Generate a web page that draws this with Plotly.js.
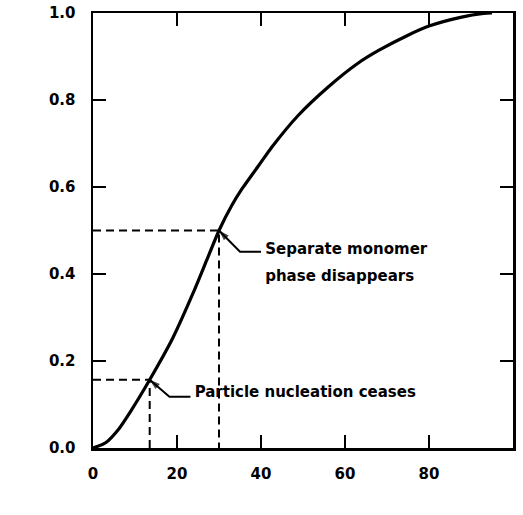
<!DOCTYPE html>
<html>
<head>
<meta charset="utf-8">
<script src="https://cdn.plot.ly/plotly-3.0.1.min.js"></script>
<style>
  html, body { margin: 0; padding: 0; background: #fff; }
  #chart { width: 523px; height: 515px; }
</style>
</head>
<body>
<div id="chart"></div>
<script>
// Conversion x versus time t (min)
const timeMin = [0, 3, 6, 9, 13.5, 19, 24, 27, 30, 33, 35.5, 39.5, 42.6, 48.9, 56, 63, 68, 75, 80, 87.5, 93, 95];
const conversion = [0, 0.012, 0.042, 0.085, 0.157, 0.253, 0.36, 0.43, 0.5, 0.557, 0.596, 0.65, 0.692, 0.765, 0.83, 0.884, 0.914, 0.949, 0.97, 0.99, 0.999, 1.0];

// Marked events on the curve
const eventLabels = ['Particle nucleation ceases', 'Separate monomer', 'phase disappears'];
const eventT = [13.5, 30];
const eventX = [0.157, 0.5];

const xTicks = [0, 20, 40, 60, 80, 100];
const yTicks = [0, 0.2, 0.4, 0.6, 0.8, 1.0];

const FONT = 'DejaVu Sans, sans-serif';
const W = 523, H = 515;
const MARGIN = { l: 93, r: 10, t: 13, b: 67 };
const X_RANGE = [0, 100], Y_RANGE = [0, 1];
const plotW = W - MARGIN.l - MARGIN.r, plotH = H - MARGIN.t - MARGIN.b;
// pixel offsets expressed in axis units
const pxX = p => p / plotW * (X_RANGE[1] - X_RANGE[0]);
const pxY = p => p / plotH * (Y_RANGE[1] - Y_RANGE[0]);

const boldFont = { family: FONT, size: 15, color: '#000', weight: 'bold' };

// dashed guide lines from each event point to both axes
const guides = eventT.map((t, i) => ({
  x: [0, t, t],
  y: [eventX[i], eventX[i], 0],
  mode: 'lines',
  line: { color: '#000', width: 2, dash: '8px,5px' }
}));

const curve = {
  x: timeMin,
  y: conversion,
  mode: 'lines',
  line: { color: '#000', width: 3.2, shape: 'spline', smoothing: 0.6 }
};

// callout leaders: from the label, along a short level run, then bent to the point
const bendT = [eventT[0] + 4.7, eventT[1] + 5];
const bendX = [eventX[0] - 0.039, eventX[1] - 0.049];
const textT = [bendT[0] + 6, bendT[1] + 6];

const leaders = [0, 1].map(i => ({
  x: [textT[i] - 1, bendT[i], eventT[i]],
  y: [bendX[i], bendX[i], eventX[i]],
  mode: 'lines+markers',
  line: { color: '#000', width: 2 },
  marker: { symbol: 'arrow', angleref: 'previous', size: [0, 0, 11], color: '#000', line: { width: 0 } }
}));

// callout texts
const calloutText = {
  x: [textT[0], textT[1], textT[1]],
  y: [bendX[0] + 0.008, bendX[1] + 0.004, bendX[1] - 0.058],
  text: eventLabels,
  mode: 'text',
  textposition: 'middle right',
  textfont: boldFont,
  cliponaxis: false
};

// last x tick label (pulled in from the page edge) and both axis titles
const lastX = xTicks[xTicks.length - 1];
const axisText = {
  x: [lastX - pxX(8), X_RANGE[0] + pxX(205), X_RANGE[0] - pxX(78)],
  y: [Y_RANGE[0] - pxY(25), Y_RANGE[0] - pxY(58), Y_RANGE[0] + pxY(226)],
  text: [String(lastX), 't ,min', 'x'],
  mode: 'text',
  textposition: 'middle center',
  textfont: { family: FONT, size: [15, 16, 16], color: '#000', weight: 'bold' },
  cliponaxis: false
};

const axisCommon = {
  showline: true,
  linecolor: '#000',
  linewidth: 2.5,
  mirror: 'ticks',
  ticks: 'inside',
  ticklen: 13,
  tickwidth: 2,
  tickcolor: '#000',
  showgrid: false,
  zeroline: false,
  tickfont: { family: FONT, size: 15, color: '#000', weight: 'bold' }
};

const layout = {
  width: W,
  height: H,
  margin: MARGIN,
  showlegend: false,
  xaxis: Object.assign({}, axisCommon, {
    range: X_RANGE,
    tickvals: xTicks,
    ticktext: xTicks.map(v => v === lastX ? '' : String(v)),
    ticklabelstandoff: 10
  }),
  yaxis: Object.assign({}, axisCommon, {
    range: Y_RANGE,
    tickvals: yTicks,
    ticktext: yTicks.map(v => v.toFixed(1)),
    ticklabelstandoff: 12
  })
};

Plotly.newPlot('chart', guides.concat([curve], leaders, [calloutText, axisText]), layout, { staticPlot: true });
</script>
</body>
</html>
